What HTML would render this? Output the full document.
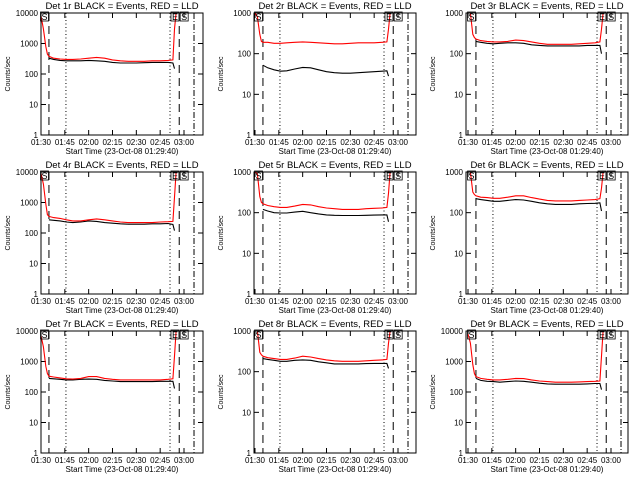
<!DOCTYPE html>
<html><head><meta charset="utf-8">
<style>
html,body{margin:0;padding:0;background:#fff;}
svg{display:block;font-family:"Liberation Sans",sans-serif;}
</style></head>
<body>
<svg id="fig" width="640" height="480" viewBox="0 0 640 480"></svg>
<script>
// shared time axis (minutes after 01:30)
const times = [0,1.5,3,4,5,8,12,16,20,25,30,35,40,45,50,55,60,65,70,75,80,83,84,85,86];
const xTickLabels = ["01:30","01:45","02:00","02:15","02:30","02:45","03:00"];
const xTickMinutes = [0,15,30,45,60,75,90];
const detNames = ["1r","2r","3r","4r","5r","6r","7r","8r","9r"];
const yMaxDecades = [4,3,3,4,3,3,4,3,4];
const markerDashed = [5,87];
const markerDotted = [15.7,81.2];
const markerDashDot = [96.3];
const N = null;
const red1=[8000,3000,800,450,380,330,310,300,300,310,330,350,330,290,270,260,260,260,270,270,280,290,3000,10000,10000];
const blk1=[N,N,N,N,330,300,280,270,270,270,280,270,260,240,230,230,230,235,240,240,240,230,150,N,N];
const red2=[1000,800,300,200,190,190,180,180,185,190,195,190,185,180,175,175,180,185,185,185,190,195,400,1000,1000];
const blk2=[N,N,N,N,52,45,40,37,38,42,46,45,40,36,34,33,33,34,35,36,37,38,28,N,N];
const red3=[1000,1000,300,250,230,210,200,195,195,200,215,210,195,180,170,170,170,170,175,180,185,195,400,1000,1000];
const blk3=[N,N,N,N,200,190,180,175,180,185,185,180,165,160,155,155,155,155,155,160,160,160,100,N,N];
const red4=[9000,4000,900,400,350,320,300,270,250,250,270,290,270,250,230,220,220,220,220,230,235,240,1500,10000,10000];
const blk4=[N,N,N,N,270,260,250,230,220,230,250,240,220,210,200,195,195,195,200,200,205,190,120,N,N];
const red5=[1000,900,250,180,165,150,140,135,135,145,160,155,140,130,125,120,120,120,125,128,130,135,300,1000,1000];
const blk5=[N,N,N,N,120,110,100,98,98,103,108,100,93,88,86,85,85,85,86,87,88,88,60,N,N];
const red6=[1000,1000,320,280,260,240,235,225,225,240,260,260,235,215,200,195,195,195,200,205,210,220,400,1000,1000];
const blk6=[N,N,N,N,220,210,200,190,190,200,210,205,190,175,165,160,160,160,165,168,170,175,110,N,N];
const red7=[7000,3000,700,400,330,310,290,270,265,280,320,320,280,260,250,250,250,250,250,250,260,270,1500,10000,10000];
const blk7=[N,N,N,N,280,270,260,250,250,260,265,260,240,230,220,220,220,220,220,225,225,225,130,N,N];
const red8=[1000,1000,300,260,240,220,210,200,200,215,240,230,210,195,185,180,180,180,185,190,195,200,500,1000,1000];
const blk8=[N,N,N,N,210,200,190,180,180,190,195,190,175,165,155,155,155,155,158,160,160,160,120,N,N];
const red9=[8000,4000,800,400,320,280,260,250,250,260,280,275,250,230,220,210,210,210,215,220,225,230,1500,10000,10000];
const blk9=[N,N,N,N,280,240,225,220,210,220,230,225,210,195,185,180,180,180,180,185,190,190,120,N,N];
const redSeries=[red1,red2,red3,red4,red5,red6,red7,red8,red9];
const blackSeries=[blk1,blk2,blk3,blk4,blk5,blk6,blk7,blk8,blk9];

const NS="http://www.w3.org/2000/svg";
const svg=document.getElementById('fig');
const colLeft=[41,254,466], colZero=[41,255,468], rowTop=[13,172,331];
const PW=162, PH=122, PXMIN=143/90;
function mk(tag,attrs,parent){const e=document.createElementNS(NS,tag);for(const k in attrs)e.setAttribute(k,attrs[k]);(parent||svg).appendChild(e);return e;}

for(let p=0;p<9;p++){
  const c=p%3, r=Math.floor(p/3);
  const L=colLeft[c], T=rowTop[r], Z=colZero[c], dec=yMaxDecades[p];
  const xs=m=>Z+m*PXMIN;
  const ys=v=>T+PH-Math.log10(v)/dec*PH;
  const g=mk('g',{});
  
  
  const cp=mk('clipPath',{id:'cp'+p},g);
  mk('rect',{x:L,y:T,width:PW,height:PH},cp);
  const tt=mk('text',{x:L+PW/2,y:T-4,'text-anchor':'middle','font-size':'9.5'},g);
  tt.textContent='Det '+detNames[p]+' BLACK = Events, RED = LLD';
  
  
  const yt=mk('text',{x:0,y:0,'text-anchor':'middle','font-size':'7',transform:'translate('+(L-31)+','+(T+PH/2)+') rotate(-90)'},g);
  yt.textContent='Counts/sec';
  
  
  for(let d=0;d<=dec;d++){
    const y=ys(Math.pow(10,d));
    mk('line',{x1:L,x2:L+5,y1:y,y2:y,stroke:'#000','stroke-width':1},g);
    mk('line',{x1:L+PW-5,x2:L+PW,y1:y,y2:y,stroke:'#000','stroke-width':1},g);
    const lb=mk('text',{x:L-3,y:y+3,'text-anchor':'end','font-size':'8'},g);
    lb.textContent=String(Math.pow(10,d));
    
    
  }
  for(let i=0;i<xTickMinutes.length;i++){
    const x=xs(xTickMinutes[i]);
    mk('line',{x1:x,x2:x,y1:T+PH,y2:T+PH-5,stroke:'#000','stroke-width':1},g);
    mk('line',{x1:x,x2:x,y1:T,y2:T+5,stroke:'#000','stroke-width':1},g);
    const lb=mk('text',{x:x,y:T+PH+10,'text-anchor':'middle','font-size':'8'},g);
    lb.textContent=xTickLabels[i];
    
    
  }
  const xt=mk('text',{x:L+PW/2,y:T+PH+19,'text-anchor':'middle','font-size':'8'},g);
  xt.textContent='Start Time (23-Oct-08 01:29:40)';
  
  
  const gm=mk('g',{'clip-path':'url(#cp'+p+')'},g);
  markerDashed.forEach(m=>mk('line',{x1:xs(m),x2:xs(m),y1:T,y2:T+PH,stroke:'#000','stroke-dasharray':'8,5'},gm));
  markerDotted.forEach(m=>mk('line',{x1:xs(m),x2:xs(m),y1:T,y2:T+PH,stroke:'#000','stroke-dasharray':'1,2.5'},gm));
  markerDashDot.forEach(m=>mk('line',{x1:xs(m),x2:xs(m),y1:T,y2:T+PH,stroke:'#000','stroke-dasharray':'6,2,1,2'},gm));
  [[blackSeries[p],'#000'],[redSeries[p],'#f00']].forEach(([arr,col])=>{
    let d='';let started=false;
    for(let i=0;i<times.length;i++){
      if(arr[i]==null){started=false;continue;}
      const x=xs(times[i]).toFixed(1), y=ys(arr[i]).toFixed(1);
      d+=(started?'L':'M')+x+','+y+' ';started=true;
    }
    const path=mk('path',{d:d,fill:'none',stroke:col,'stroke-width':1.1},gm);
    
    
  });
  const boxes=[[xs(-0.3),'S'],[xs(81.8),'E'],[xs(87.6),'S']];
  boxes.forEach(([bx,lab])=>{
    mk('rect',{x:bx,y:T-1,width:8,height:9,fill:'none',stroke:'#000','stroke-width':0.8},g);
    const s=mk('text',{x:bx+4,y:T+7,'text-anchor':'middle','font-size':'9'},g);
    s.textContent=lab;
    
    
  });
  const fr=mk('rect',{x:L,y:T,width:PW,height:PH,fill:'none',stroke:'#000','stroke-width':1},g);
  
  
}
</script>
</body></html>
